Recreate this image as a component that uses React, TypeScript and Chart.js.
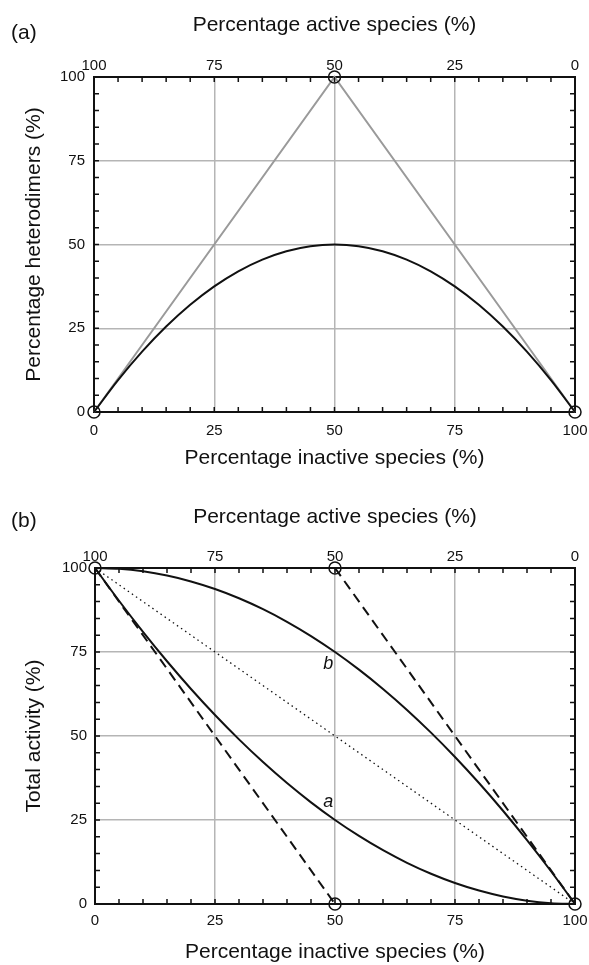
import React, { useEffect, useRef } from "react";
import { Chart, registerables } from "chart.js";

Chart.register(...registerables);

// ---------- data ----------
const tickValues = [0, 25, 50, 75, 100];
const minorTickValues = [5, 10, 15, 20, 25, 30, 35, 40, 45, 50, 55, 60, 65, 70, 75, 80, 85, 90, 95];

// panel (a)
const inactivePct = [0, 5, 10, 15, 20, 25, 30, 35, 40, 45, 50, 55, 60, 65, 70, 75, 80, 85, 90, 95, 100];
const heterodimerPct = [0, 9.5, 18, 25.5, 32, 37.5, 42, 45.5, 48, 49.5, 50, 49.5, 48, 45.5, 42, 37.5, 32, 25.5, 18, 9.5, 0];
const triangleX = [0, 50, 100];
const triangleY = [0, 100, 0];
const circlesAX = [0, 50, 100];
const circlesAY = [0, 100, 0];

// panel (b)
const activityCurveA = [100, 90.25, 81, 72.25, 64, 56.25, 49, 42.25, 36, 30.25, 25, 20.25, 16, 12.25, 9, 6.25, 4, 2.25, 1, 0.25, 0];
const activityCurveB = [100, 99.75, 99, 97.75, 96, 93.75, 91, 87.75, 84, 79.75, 75, 69.75, 64, 57.75, 51, 43.75, 36, 27.75, 19, 9.75, 0];
const dottedX = [0, 100];
const dottedY = [100, 0];
const dashedLeftX = [0, 50];
const dashedLeftY = [100, 0];
const dashedRightX = [50, 100];
const dashedRightY = [100, 0];
const circlesBX = [0, 50, 50, 100];
const circlesBY = [100, 100, 0, 0];
const curveLabelText = ["a", "b"];
const curveLabelX = [48.6, 48.6];
const curveLabelY = [30.4, 71.4];

// ---------- styling ----------
const FONT = '"Liberation Sans", Arial, Helvetica, sans-serif';
const INK = "#111";
const GRID = "#b5b5b5";
const W = 589;

const pts = (xs: number[], ys: number[]) => xs.map((x, i) => ({ x, y: ys[i] }));

const lineDs = (xs: number[], ys: number[], extra: any) => ({
  data: pts(xs, ys),
  showLine: true,
  pointRadius: 0,
  pointHoverRadius: 0,
  borderColor: INK,
  borderWidth: 2,
  fill: false,
  clip: false,
  ...extra,
});

const circleDs = (xs: number[], ys: number[]) => ({
  data: pts(xs, ys),
  showLine: false,
  pointRadius: 6,
  pointHoverRadius: 6,
  pointBorderWidth: 1.5,
  pointBorderColor: INK,
  pointBackgroundColor: "rgba(0,0,0,0)",
  pointStyle: "circle",
  clip: false,
});

const decorPlugin = {
  id: "decor",
  afterDraw(chart: any, _args: any, opts: any) {
    const { ctx, chartArea } = chart;
    const xs = chart.scales.x;
    const ys = chart.scales.y;
    ctx.save();
    ctx.strokeStyle = INK;
    ctx.lineWidth = 1.5;
    ctx.beginPath();
    const L = 5;
    for (const v of minorTickValues) {
      const px = xs.getPixelForValue(v);
      ctx.moveTo(px, chartArea.bottom);
      ctx.lineTo(px, chartArea.bottom - L);
      ctx.moveTo(px, chartArea.top);
      ctx.lineTo(px, chartArea.top + L);
      const py = ys.getPixelForValue(v);
      ctx.moveTo(chartArea.left, py);
      ctx.lineTo(chartArea.left + L, py);
      ctx.moveTo(chartArea.right, py);
      ctx.lineTo(chartArea.right - L, py);
    }
    ctx.stroke();

    ctx.fillStyle = INK;
    ctx.textAlign = "left";
    ctx.textBaseline = "alphabetic";
    ctx.font = `21px ${FONT}`;
    ctx.fillText(opts.panelLabel, 11, opts.panelLabelY);

    if (opts.curveLabels) {
      ctx.font = `italic 18px ${FONT}`;
      ctx.textAlign = "center";
      ctx.textBaseline = "middle";
      opts.curveLabels.forEach((t: string, i: number) => {
        ctx.fillText(t, xs.getPixelForValue(curveLabelX[i]), ys.getPixelForValue(curveLabelY[i]));
      });
    }
    ctx.restore();
  },
};

type PanelCfg = {
  height: number;
  left: number;
  right: number;
  top: number;
  bottom: number;
  yTitle: string;
  topTitlePad: number;
  bottomTitlePad: number;
  topTickPad: number;
  bottomTickPad: number;
  leftTickPad: number;
  panelLabel: string;
  panelLabelY: number;
  datasets: any[];
  curveLabels?: string[];
};

const setTicks = (s: any) => {
  s.ticks = tickValues.map((v) => ({ value: v }));
};

const tickFont = { family: FONT, size: 15 };
const titleFont = { family: FONT, size: 21 };

function buildConfig(c: PanelCfg): any {
  const gridColor = (ctx: any) =>
    ctx.tick && ctx.tick.value > 0 && ctx.tick.value < 100 ? GRID : "rgba(0,0,0,0)";
  const border = { display: true, color: INK, width: 2 };
  const fixH = (h: number) => (s: any) => {
    s.height = h;
    s.paddingLeft = 0;
    s.paddingRight = 0;
  };
  const fixW = (w: number) => (s: any) => {
    s.width = w;
    s.paddingTop = 0;
    s.paddingBottom = 0;
  };
  return {
    type: "scatter",
    data: { datasets: c.datasets },
    plugins: [decorPlugin],
    options: {
      animation: false,
      responsive: false,
      maintainAspectRatio: false,
      events: [],
      layout: { padding: 0 },
      plugins: {
        legend: { display: false },
        tooltip: { enabled: false },
        decor: { panelLabel: c.panelLabel, panelLabelY: c.panelLabelY, curveLabels: c.curveLabels },
      },
      scales: {
        x: {
          type: "linear",
          position: "bottom",
          min: 0,
          max: 100,
          afterBuildTicks: setTicks,
          ticks: { color: INK, font: tickFont, padding: c.bottomTickPad, autoSkip: false, maxRotation: 0 },
          grid: { display: true, drawTicks: false, color: gridColor, lineWidth: 1.5 },
          border,
          title: {
            display: true,
            text: "Percentage inactive species (%)",
            color: INK,
            font: titleFont,
            padding: { top: 0, bottom: c.bottomTitlePad },
          },
          afterFit: fixH(c.bottom),
        },
        x2: {
          type: "linear",
          position: "top",
          reverse: true,
          min: 0,
          max: 100,
          afterBuildTicks: setTicks,
          ticks: { color: INK, font: tickFont, padding: c.topTickPad, autoSkip: false, maxRotation: 0 },
          grid: { display: false, drawTicks: false },
          border,
          title: {
            display: true,
            text: "Percentage active species (%)",
            color: INK,
            font: titleFont,
            padding: { top: c.topTitlePad, bottom: 0 },
          },
          afterFit: fixH(c.top),
        },
        y: {
          type: "linear",
          position: "left",
          min: 0,
          max: 100,
          afterBuildTicks: setTicks,
          ticks: { color: INK, font: tickFont, padding: c.leftTickPad, autoSkip: false },
          grid: { display: true, drawTicks: false, color: gridColor, lineWidth: 1.5 },
          border,
          title: {
            display: true,
            text: c.yTitle,
            color: INK,
            font: titleFont,
            padding: { top: 22, bottom: 0 },
          },
          afterFit: fixW(c.left),
        },
        y2: {
          type: "linear",
          position: "right",
          min: 0,
          max: 100,
          ticks: { display: false },
          grid: { display: false, drawTicks: false },
          border,
          afterFit: fixW(c.right),
        },
      },
    },
  };
}

const panelA: PanelCfg = {
  height: 482,
  left: 94,
  right: W - 575,
  top: 77,
  bottom: 482 - 412,
  yTitle: "Percentage heterodimers (%)",
  topTitlePad: 13,
  bottomTitlePad: 11,
  topTickPad: 2,
  bottomTickPad: 10,
  leftTickPad: 9,
  panelLabel: "(a)",
  panelLabelY: 39,
  datasets: [
    circleDs(circlesAX, circlesAY),
    lineDs(inactivePct, heterodimerPct, { cubicInterpolationMode: "monotone" }),
    lineDs(triangleX, triangleY, { borderColor: "#9a9a9a", borderWidth: 2 }),
  ],
};

const panelB: PanelCfg = {
  height: 483,
  left: 95,
  right: W - 575,
  top: 568 - 482,
  bottom: 483 - (904 - 482),
  yTitle: "Total activity (%)",
  topTitlePad: 23,
  bottomTitlePad: 0,
  topTickPad: 2,
  bottomTickPad: 8,
  leftTickPad: 8,
  panelLabel: "(b)",
  panelLabelY: 45,
  curveLabels: curveLabelText,
  datasets: [
    circleDs(circlesBX, circlesBY),
    lineDs(inactivePct, activityCurveA, { cubicInterpolationMode: "monotone" }),
    lineDs(inactivePct, activityCurveB, { cubicInterpolationMode: "monotone" }),
    lineDs(dashedLeftX, dashedLeftY, { borderDash: [10, 6] }),
    lineDs(dashedRightX, dashedRightY, { borderDash: [10, 6] }),
    lineDs(dottedX, dottedY, { borderWidth: 1.3, borderDash: [1.5, 3.5] }),
  ],
};

function Panel({ cfg }: { cfg: PanelCfg }) {
  const ref = useRef<HTMLCanvasElement>(null);
  useEffect(() => {
    if (!ref.current) return;
    const chart = new Chart(ref.current, buildConfig(cfg));
    return () => chart.destroy();
  }, [cfg]);
  return (
    <canvas
      ref={ref}
      width={W}
      height={cfg.height}
      style={{ display: "block", width: W, height: cfg.height }}
    />
  );
}

export default function App() {
  return (
    <div style={{ position: "absolute", left: 0, top: 0, width: W, height: 965, background: "#fff" }}>
      <Panel cfg={panelA} />
      <Panel cfg={panelB} />
    </div>
  );
}
